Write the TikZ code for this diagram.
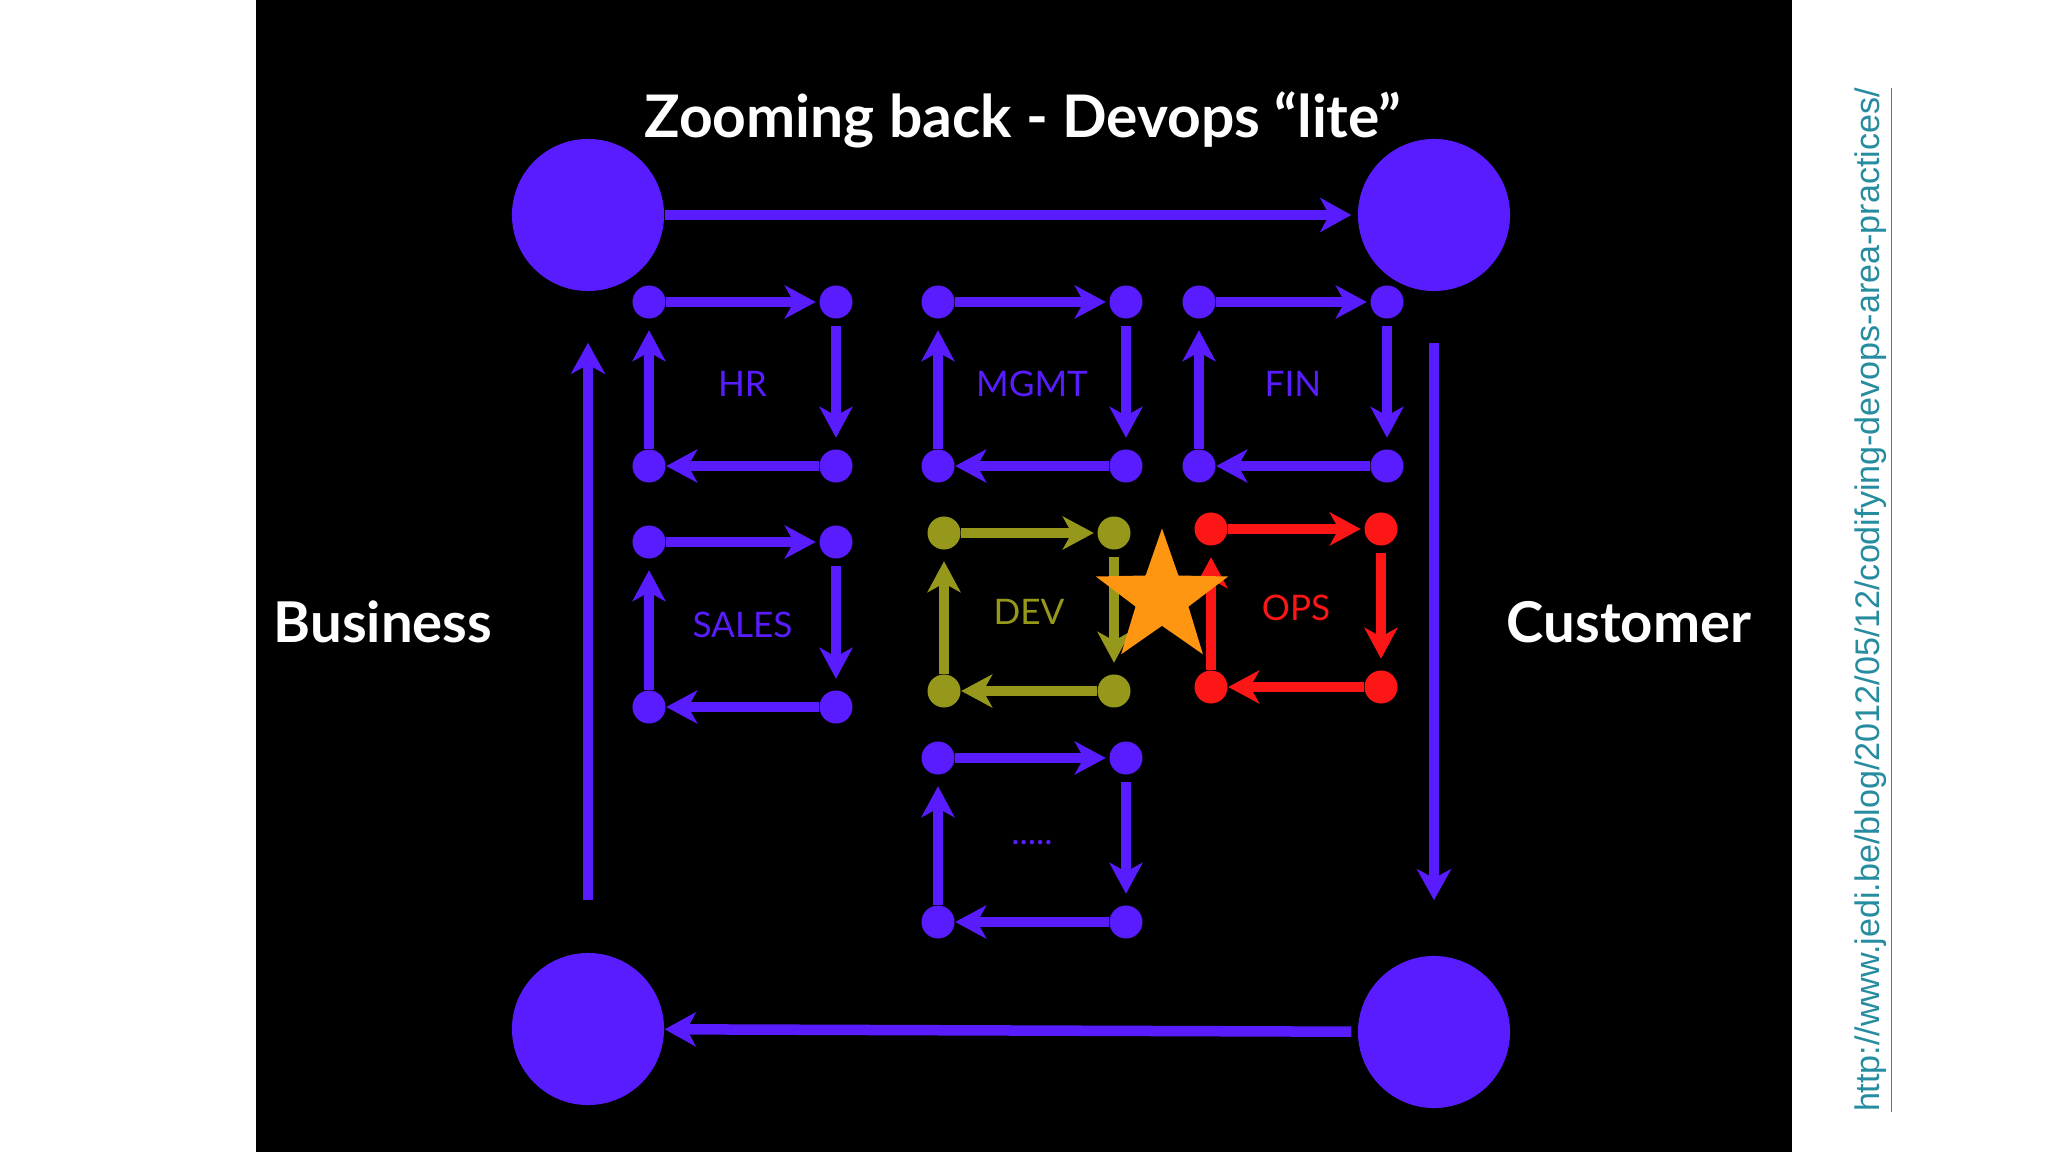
\documentclass[tikz,border=0pt]{standalone}
\usepackage{fontspec}
\setmainfont{Lato}
\newfontfamily\urlfont{Liberation Sans}
\usetikzlibrary{arrows.meta,shapes.geometric}
\definecolor{loopblue}{RGB}{88,28,255}
\definecolor{devolive}{RGB}{150,152,28}
\definecolor{opsred}{RGB}{252,22,22}
\definecolor{starorange}{RGB}{255,150,18}
\definecolor{urlteal}{RGB}{38,140,160}
\newcommand{\moredots}{\raisebox{-1mm}{.....}}
\tikzset{
  bigdot/.style={circle,fill=loopblue,minimum size=1.52cm,inner sep=0pt},
  dot/.style={circle,fill=#1,minimum size=.33cm,inner sep=0pt},
  flow/.style={-{Stealth[length=3.1mm,width=3.4mm,inset=.9mm]},draw=loopblue,fill=loopblue,
    line width=1.05mm},
  loopedge/.style={-{Stealth[length=3.1mm,width=3.3mm,inset=.9mm]},line width=1mm},
  looplabel/.style={font=\fontsize{10}{12}\selectfont},
  headline/.style={text=white,font=\fontsize{16.7}{19}\selectfont\bfseries},
  sidelabel/.style={text=white,font=\fontsize{16}{19}\selectfont\bfseries},
}
\begin{document}
\begin{tikzpicture}[x=.01cm,y=-.01cm]
  \fill[white] (0,0) rectangle (2048,1152);
  \fill[black] (256,0) rectangle (1792,1152);
  % outer cycle
  \node[bigdot] (biz-top) at (588,215) {};
  \node[bigdot] (cust-top) at (1434,215) {};
  \node[bigdot] (cust-bot) at (1434,1032) {};
  \node[bigdot] (biz-bot) at (588,1029) {};
  \draw[flow,shorten >=.6mm] (biz-top) -- (cust-top);
  \draw[flow,shorten <=5.1mm,shorten >=5.5mm] (cust-top) -- (cust-bot);
  \draw[flow,shorten <=.6mm] (cust-bot) -- (biz-bot);
  \draw[flow,shorten <=5.2mm,shorten >=5.1mm] (biz-bot) -- (biz-top);
  % departments
  \foreach \n/\xa/\ya/\xb/\yb/\col/\lbl in {hr/649/302/836/466/loopblue/HR,
      mgmt/938/302/1126/466/loopblue/MGMT, fin/1199/302/1387/466/loopblue/FIN,
      sales/649/542/836/707/loopblue/SALES, dev/944/533/1114/691/devolive/DEV,
      ops/1211/529/1381/687/opsred/OPS, more/938/758/1126/922/loopblue/\moredots}{
    \node[dot=\col] (\n-tl) at (\xa,\ya) {};
    \node[dot=\col] (\n-tr) at (\xb,\ya) {};
    \node[dot=\col] (\n-br) at (\xb,\yb) {};
    \node[dot=\col] (\n-bl) at (\xa,\yb) {};
    \node[looplabel,text=\col] (\n-label) at ({(\xa+\xb)/2},{(\ya+\yb)/2}) {\lbl};
    \draw[loopedge,draw=\col,fill=\col,shorten >=.3mm] (\n-tl) -- (\n-tr);
    \draw[loopedge,draw=\col,fill=\col,shorten <=.7mm,shorten >=1.1mm] (\n-tr) -- (\n-br);
    \draw[loopedge,draw=\col,fill=\col] (\n-br) -- (\n-bl);
    \draw[loopedge,draw=\col,fill=\col,shorten >=1.1mm] (\n-bl) -- (\n-tl);
  }
  \node[star,star points=5,star point ratio=2.5,fill=starorange,minimum size=1.39cm,
    inner sep=0pt] (handoff) at (1162,598) {};
  \node[headline] (title) at (1023,120) {Zooming back - Devops “lite”};
  \node[sidelabel] (business) at (383,622) {Business};
  \node[sidelabel] (customer) at (1629,622) {Customer};
  \node[rotate=90,text=urlteal,font=\urlfont\fontsize{9.7}{11}\selectfont] (source)
    at (1874,600) {\underline{http://www.jedi.be/blog/2012/05/12/codifying-devops-area-practices/}};
\end{tikzpicture}
\end{document}
